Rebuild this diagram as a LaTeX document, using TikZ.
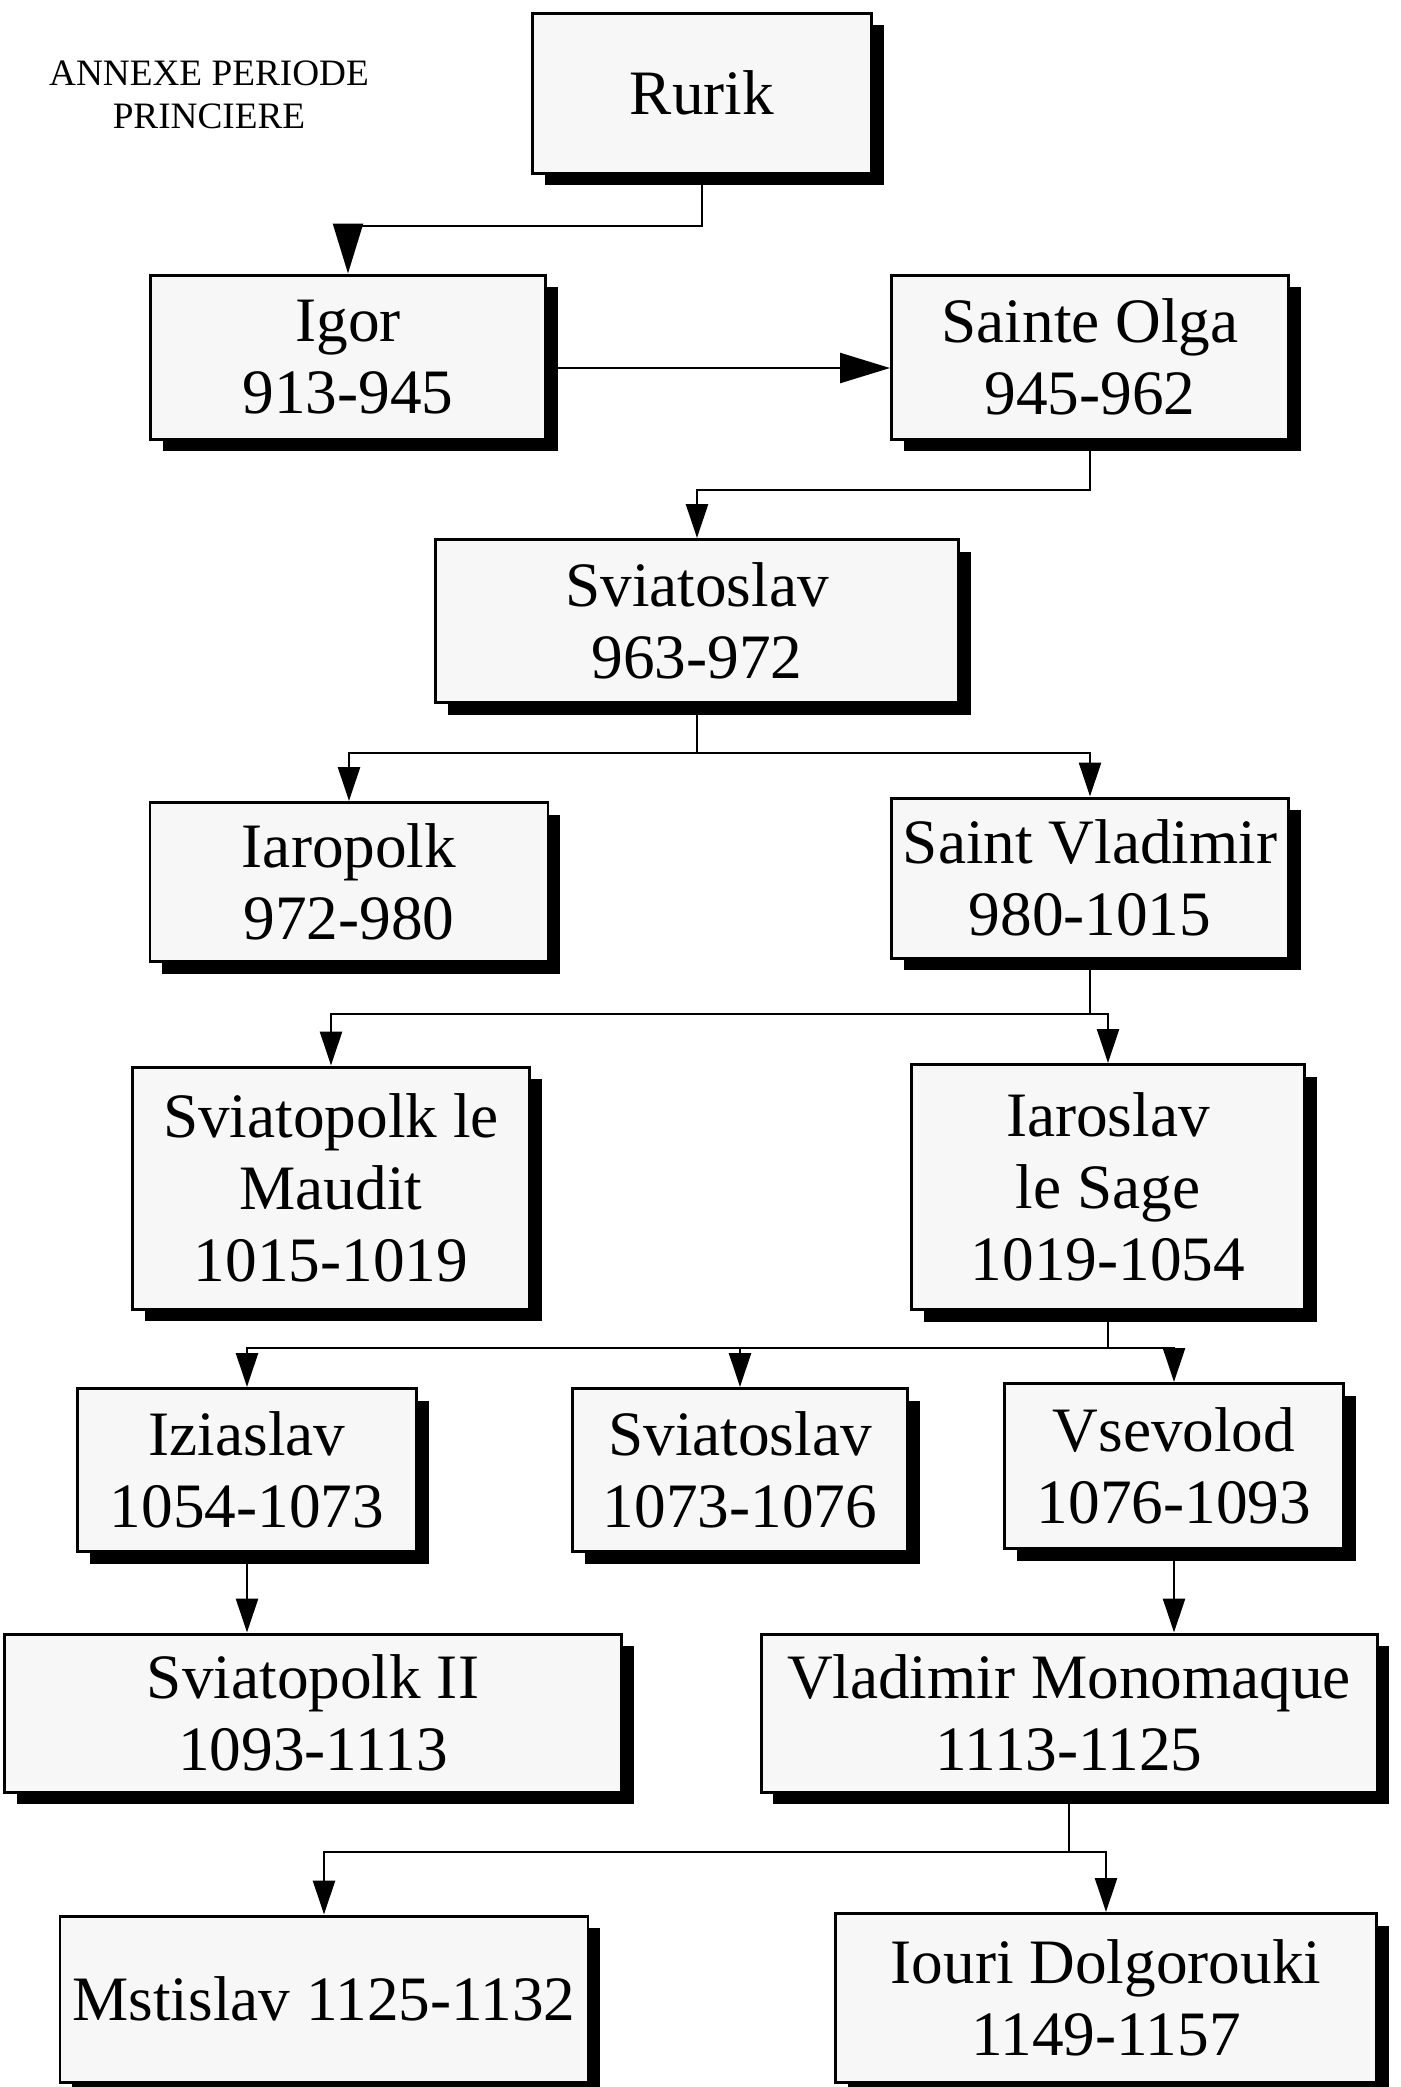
\documentclass[tikz,border=0pt]{standalone}
\usepackage{fontspec}
\setmainfont{Liberation Serif}
\usetikzlibrary{arrows.meta,shadows,calc}
\tikzset{
  princebox/.style={draw=black,line width=0.85pt,fill=black!3,align=center,
    inner sep=0pt,font=\fontsize{18}{20.5}\selectfont,
    drop shadow={shadow xshift=1.2mm,shadow yshift=-1.2mm,fill=black,opacity=1}},
  link/.style={line width=0.7pt},
  flow/.style={link,-{Triangle[length=3.4mm,width=2.2mm]}},
  bigflow/.style={link,-{Triangle[length=5mm,width=3mm]}},
  titlelbl/.style={align=center,inner sep=0pt,font=\fontsize{10.6}{12.2}\selectfont},
}
\begin{document}
\begin{tikzpicture}[x=0.1mm,y=-0.1mm]
  \useasboundingbox (0,0) rectangle (1401,2087);
  \node[titlelbl] (annexe) at (209,95) {ANNEXE PERIODE\\PRINCIERE};
  % princes
  \node[princebox,minimum width=33.9mm,minimum height=16mm] (rurik) at (702,93) {Rurik};
  \node[princebox,minimum width=39.5mm,minimum height=16.4mm] (igor) at (348,357) {Igor\\913-945};
  \node[princebox,minimum width=39.7mm,minimum height=16.4mm] (olga) at (1090,357) {Sainte Olga\\945-962};
  \node[princebox,minimum width=52.3mm,minimum height=16.3mm] (sviat) at (697,621) {Sviatoslav\\963-972};
  \node[princebox,minimum width=39.8mm,minimum height=15.9mm] (iaropolk) at (349,882) {Iaropolk\\972-980};
  \node[princebox,minimum width=39.7mm,minimum height=16mm] (vladimir) at (1090,878) {Saint Vladimir\\980-1015};
  \node[princebox,minimum width=39.7mm,minimum height=24.2mm] (sviatopolk) at (331,1188) {Sviatopolk le\\Maudit\\1015-1019};
  \node[princebox,minimum width=39.3mm,minimum height=24.5mm] (iaroslav) at (1108,1187) {Iaroslav\\le Sage\\1019-1054};
  \node[princebox,minimum width=33.9mm,minimum height=16.3mm] (iziaslav) at (247,1470) {Iziaslav\\1054-1073};
  \node[princebox,minimum width=33.5mm,minimum height=16.3mm] (sviatb) at (740,1470) {Sviatoslav\\1073-1076};
  \node[princebox,minimum width=33.9mm,minimum height=16.5mm] (vsevolod) at (1174,1466) {Vsevolod\\1076-1093};
  \node[princebox,minimum width=61.7mm,minimum height=15.8mm] (sviatopolkb) at (313,1713) {Sviatopolk II\\1093-1113};
  \node[princebox,minimum width=61.6mm,minimum height=15.8mm] (monomaque) at (1069,1713) {Vladimir Monomaque\\1113-1125};
  \node[princebox,minimum width=52.8mm,minimum height=16.6mm] (mstislav) at (324,1999) {Mstislav 1125-1132};
  \node[princebox,minimum width=54.1mm,minimum height=16.9mm] (iouri) at (1106,1998) {Iouri Dolgorouki\\1149-1157};
  % junctions
  \coordinate (rj) at (702,226);
  \coordinate (oj) at (1090,490);
  \coordinate (sj) at (697,753);
  \coordinate (vj) at (1090,1014);
  \coordinate (ij) at (1108,1348);
  \coordinate (mj) at (1069,1852);
  % links
  \draw[bigflow] (rurik) -- (rj) -| (igor);
  \draw[bigflow] ([shift={(0,11)}]igor.east) -- ([shift={(0,11)}]olga.west);
  \draw[flow] (olga) -- (oj) -| (sviat);
  \draw[link] (sviat) -- (sj);
  \draw[flow] (sj) -| (iaropolk);
  \draw[flow] (sj) -| (vladimir);
  \draw[link] (vladimir) -- (vj);
  \draw[flow] (vj) -| (sviatopolk);
  \draw[flow] (vj) -| (iaroslav);
  \draw[link] (iaroslav) -- (ij);
  \draw[flow] (ij) -| (iziaslav);
  \draw[flow] (ij) -| (sviatb);
  \draw[flow] (ij) -| (vsevolod);
  \draw[flow] (iziaslav) -- (iziaslav |- sviatopolkb.north);
  \draw[flow] (vsevolod) -- (vsevolod |- monomaque.north);
  \draw[link] (monomaque) -- (mj);
  \draw[flow] (mj) -| (mstislav);
  \draw[flow] (mj) -| (iouri);
\end{tikzpicture}
\end{document}
